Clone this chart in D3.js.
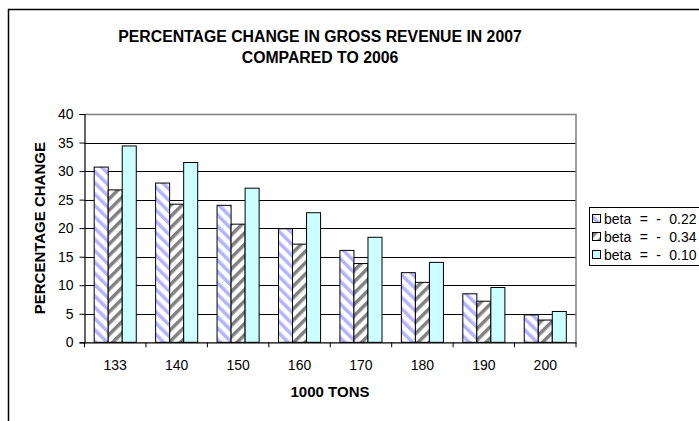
<!DOCTYPE html>
<html><head><meta charset="utf-8">
<script src="https://cdn.jsdelivr.net/npm/d3@7"></script>
<style>body{margin:0;background:#fff}svg{display:block}</style>
</head><body>
<script>
const categories = ["133","140","150","160","170","180","190","200"];
const seriesNames = ["beta = - 0.22","beta = - 0.34","beta = - 0.10"];
const s1 = [30.7,27.9,24.0,19.9,16.1,12.2,8.5,4.8];
const s2 = [26.7,24.2,20.7,17.2,13.8,10.5,7.2,3.9];
const s3 = [34.4,31.5,27.0,22.7,18.4,14.0,9.6,5.4];
const yTicks = [0,5,10,15,20,25,30,35,40];
const seriesValues = [s1,s2,s3];

const W=699,H=421;
const svg=d3.select("body").append("svg").attr("width",W).attr("height",H);
const defs=svg.append("defs");
const p1=defs.append("pattern").attr("id","p1").attr("patternUnits","userSpaceOnUse")
  .attr("width",8).attr("height",8).attr("patternTransform","rotate(-45)");
p1.append("rect").attr("width",8).attr("height",8).attr("fill","#fff");
p1.append("rect").attr("width",3.5).attr("height",8).attr("fill","#b3b3ff");
const p2=defs.append("pattern").attr("id","p2").attr("patternUnits","userSpaceOnUse")
  .attr("width",8).attr("height",8).attr("patternTransform","rotate(45)");
p2.append("rect").attr("width",8).attr("height",8).attr("fill","#fff");
p2.append("rect").attr("width",3.5).attr("height",8).attr("fill","#808080");
const fills=["url(#p1)","url(#p2)","#ccffff"];

// outer frame
svg.append("path").attr("d","M8.5,430V9.5H710").attr("fill","none").attr("stroke","#000").attr("stroke-width",1.5);

const font="Liberation Sans, Arial, sans-serif";
const L=84.5,R=576,T=114,B=342.3;
const x=d3.scaleBand().domain(categories).range([L,R]);
const y=d3.scaleLinear().domain([0,40]).range([B,T]);

// gridlines
svg.append("g").selectAll("line").data(yTicks.filter(d=>d>0&&d<40)).join("line")
  .attr("x1",L).attr("x2",R).attr("y1",d=>Math.round(y(d))+0.5).attr("y2",d=>Math.round(y(d))+0.5)
  .attr("stroke","#000").attr("stroke-width",1);
// plot border top/right
svg.append("path").attr("d",`M${L},${Math.round(T)+0.5}H${R}V${B}`).attr("fill","none").attr("stroke","#808080").attr("stroke-width",1.5);

// bars
const inner=d3.scaleBand().domain([0,1,2]).range([0,x.bandwidth()]).paddingOuter(0.69).paddingInner(0);
const g=svg.append("g");
seriesValues.forEach((vals,si)=>{
  g.selectAll(null).data(vals).join("rect")
    .attr("x",(d,i)=>x(categories[i])+inner(si))
    .attr("width",inner.bandwidth())
    .attr("y",d=>y(d)).attr("height",d=>B-y(d))
    .attr("fill",fills[si]).attr("stroke","#000").attr("stroke-width",1);
});

// axes
const ya=svg.append("g").attr("transform",`translate(${L},0)`)
  .call(d3.axisLeft(y).tickValues(yTicks).tickSize(5).tickPadding(6));
ya.select(".domain").attr("stroke","#000").attr("stroke-width",1.2);
ya.selectAll("text").attr("font-family",font).attr("font-size",14).attr("fill","#000");
const xa=svg.append("g").attr("transform",`translate(0,${B})`)
  .call(d3.axisBottom(x).tickSize(0).tickPadding(18));
xa.select(".domain").attr("stroke","#000").attr("stroke-width",1.2);
xa.selectAll("text").attr("font-family",font).attr("font-size",14).attr("fill","#000");
xa.selectAll(null).data(d3.range(categories.length+1)).join("line")
  .attr("x1",i=>L+i*x.step()).attr("x2",i=>L+i*x.step()).attr("y1",0).attr("y2",5).attr("stroke","#000");

// titles
svg.append("text").attr("x",320).attr("y",42).attr("text-anchor","middle").attr("font-family",font)
  .attr("font-weight","bold").attr("font-size",15.8).text("PERCENTAGE CHANGE IN GROSS REVENUE IN 2007");
svg.append("text").attr("x",320).attr("y",63).attr("text-anchor","middle").attr("font-family",font)
  .attr("font-weight","bold").attr("font-size",15.8).text("COMPARED TO 2006");
svg.append("text").attr("x",330).attr("y",397).attr("text-anchor","middle").attr("font-family",font)
  .attr("font-weight","bold").attr("font-size",15).text("1000 TONS");
svg.append("text").attr("transform",`translate(45,${(T+B)/2}) rotate(-90)`).attr("text-anchor","middle")
  .attr("font-family",font).attr("font-weight","bold").attr("font-size",15).text("PERCENTAGE CHANGE");

// legend
const lg=svg.append("g");
lg.append("rect").attr("x",589.5).attr("y",207.5).attr("width",150).attr("height",58).attr("fill","#fff").attr("stroke","#000");
seriesNames.forEach((n,i)=>{
  const yy=219+i*18;
  lg.append("rect").attr("x",592.5).attr("y",yy-4.5).attr("width",8).attr("height",8).attr("fill",fills[i]).attr("stroke","#000");
  lg.append("text").attr("x",604).attr("y",yy+5).attr("font-family",font).attr("font-size",14)
    .attr("word-spacing",4.5).text(n);
});
</script>
</body></html>
